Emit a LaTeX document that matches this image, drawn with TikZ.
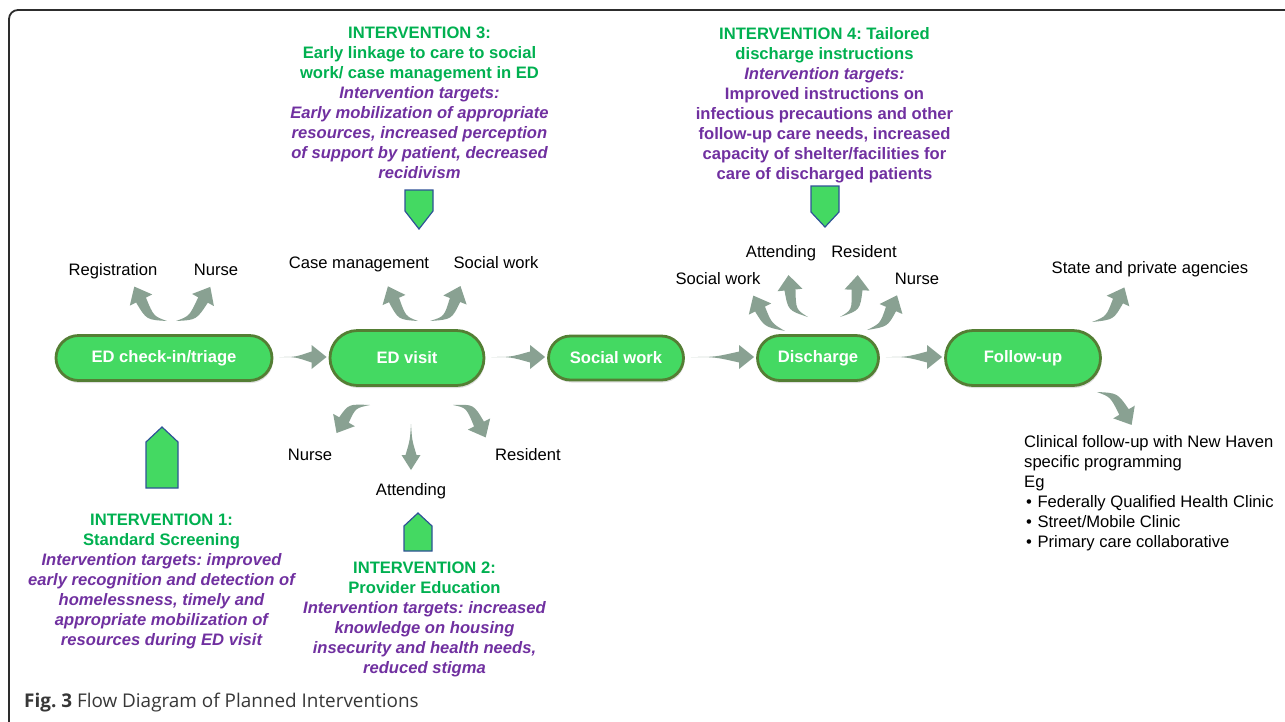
\documentclass[tikz,border=0pt]{standalone}
\usepackage{fontspec}
\setmainfont{Liberation Sans}
\newfontfamily\capfont{Open Sans}
\usetikzlibrary{calc,shapes.misc,shadows}
\frenchspacing

\definecolor{pillgreen}{RGB}{68,217,98}
\definecolor{pilledge}{RGB}{84,126,52}
\definecolor{arrowgray}{RGB}{137,161,146}
\definecolor{headgreen}{RGB}{0,176,80}
\definecolor{targetpurple}{RGB}{112,48,160}
\definecolor{tagblue}{RGB}{47,82,150}
\definecolor{framegray}{RGB}{45,45,45}
\definecolor{captiongray}{RGB}{55,55,55}

\newcommand{\ivhead}[1]{\textcolor{headgreen}{\bfseries #1}}
\newcommand{\ivtarget}[1]{\textcolor{targetpurple}{\bfseries\itshape #1}}
\newcommand{\ivplain}[1]{\textcolor{targetpurple}{\bfseries #1}}

% tapered block arrow
% #1 head half-width, #2 body bulge, #3 tail point, #4 bend control, #5 head base
\newcommand{\fatarrow}[5]{%
  \fill[arrowgray] (#3) .. controls ($(#4)!#2!-90:(#5)$) .. ($(#5)!5.5pt!90:(#4)$)
    -- ($(#5)!#1!90:(#4)$) -- ($(#5)!-15pt!(#4)$) -- ($(#5)!#1!-90:(#4)$)
    -- ($(#5)!5.5pt!-90:(#4)$) .. controls ($(#4)!#2!90:(#5)$) .. (#3) -- cycle;}

% curved arrow from three named coordinates built from plain numbers
\newcommand{\bentarrow}[4]{%
  \coordinate (#1S) at (#2); \coordinate (#1C) at (#3); \coordinate (#1B) at (#4);
  \fatarrow{12.5pt}{4pt}{#1S}{#1C}{#1B}}

\tikzset{
  stage/.style={rounded rectangle, draw=pilledge, line width=2.8pt, fill=pillgreen,
    text=white, font=\fontsize{16.6}{20}\selectfont\bfseries, inner sep=0pt,
    drop shadow={shadow xshift=1pt, shadow yshift=-2.5pt, opacity=0.25}},
  role/.style={font=\fontsize{16.6}{20}\selectfont, anchor=base, inner sep=0pt},
  block/.style={font=\fontsize{16.6}{20}\selectfont, align=center, anchor=north, inner sep=0pt},
  tag/.style={fill=pillgreen, draw=tagblue, line width=1.2pt, line join=miter},
}

\begin{document}
\begin{tikzpicture}[x=1pt,y=-1pt]
\useasboundingbox (0,0) rectangle (1285,721);

% figure frame
\draw[framegray, line width=1.8pt, rounded corners=9pt] (1300,10) -- (9,10) -- (9,735) -- (1300,735);

% process stages
\node[stage, minimum width=216pt, minimum height=45pt] (ci) at (164,358) {ED check-in/triage};
\node[stage, minimum width=154pt, minimum height=55pt] (ed) at (407,358) {ED visit};
\node[stage, minimum width=135pt, minimum height=44pt] (sw) at (616,358) {Social work};
\node[stage, minimum width=121pt, minimum height=45pt] (dc) at (818,358) {Discharge};
\node[stage, minimum width=155pt, minimum height=55pt] (fu) at (1023,358) {Follow-up};

% arrows between stages
\foreach \a/\b [count=\i] in {ci/ed, ed/sw, sw/dc, dc/fu}{
  \coordinate (m\i S) at ($(\a.east)+(6,-1)$);
  \coordinate (m\i B) at ($(\b.west)+(-17,-1)$);
  \coordinate (m\i C) at ($(m\i S)!0.5!(m\i B)$);
  \fatarrow{12pt}{0pt}{m\i S}{m\i C}{m\i B}
}

% staff and service labels
\node[role] (lreg) at (113,275) {Registration};
\node[role] (lnur1) at (216,275) {Nurse};
\node[role] (lcm) at (359,268) {Case management};
\node[role] (lsw1) at (496,268) {Social work};
\node[role] (lnur2) at (310,460) {Nurse};
\node[role] (latt1) at (411,495) {Attending};
\node[role] (lres1) at (528,460) {Resident};
\node[role] (lsw2) at (718,284) {Social work};
\node[role] (latt2) at (781,257) {Attending};
\node[role] (lres2) at (864,257) {Resident};
\node[role] (lnur3) at (917,284) {Nurse};
\node[role] (lstate) at (1150,273) {State and private agencies};

% branching arrows
\bentarrow{reg}{167,321}{150,318}{141,300}
\bentarrow{nura}{176,321}{193,318}{203,300}
\bentarrow{cm}{418,321}{402,318}{394,300}
\bentarrow{swa}{430,321}{448,318}{455,300}
\bentarrow{nurb}{370,405}{352,406}{344,420}
\coordinate (attaS) at (411,424); \coordinate (attaC) at (411,440); \coordinate (attaB) at (411,455);
\fatarrow{9.5pt}{1pt}{attaS}{attaC}{attaB}
\bentarrow{resa}{453,405}{470,406}{479,424}
\bentarrow{swb}{785,331}{768,325}{760,309}
\bentarrow{attb}{808,317}{792,310}{790,290}
\bentarrow{resb}{840,317}{856,310}{857,290}
\bentarrow{nurc}{867,330}{884,325}{891,309}
\bentarrow{st}{1092,322}{1110,318}{1118,301}
\bentarrow{cl}{1097,392}{1114,395}{1124,412}

% intervention markers
\filldraw[tag] (146,488) -- (146,442) -- (162,427) -- (178,442) -- (178,488) -- cycle;
\filldraw[tag] (404,551) -- (404,526) -- (418,513) -- (432,526) -- (432,551) -- cycle;
\filldraw[tag] (405,190) -- (433,190) -- (433,211) -- (419,229) -- (405,211) -- cycle;
\filldraw[tag] (811,186) -- (839,186) -- (839,212) -- (825,227) -- (811,212) -- cycle;

% intervention descriptions
\node[block] (iv3) at (419.5,27) {\ivhead{INTERVENTION 3:}\\
  \ivhead{Early linkage to care to social}\\
  \ivhead{work/ case management in ED}\\
  \ivtarget{Intervention targets:}\\
  \ivtarget{Early mobilization of appropriate}\\
  \ivtarget{resources, increased perception}\\
  \ivtarget{of support by patient, decreased}\\
  \ivtarget{recidivism}};

\node[block] (iv4) at (824.5,27) {\ivhead{INTERVENTION 4: Tailored}\\
  \ivhead{discharge instructions}\\
  \ivtarget{Intervention targets:}\\
  \ivplain{Improved instructions on}\\
  \ivplain{infectious precautions and other}\\
  \ivplain{follow-up care needs, increased}\\
  \ivplain{capacity of shelter/facilities for}\\
  \ivplain{care of discharged patients}};

\node[block] (iv1) at (161.5,514) {\ivhead{INTERVENTION 1:}\\
  \ivhead{Standard Screening}\\
  \ivtarget{Intervention targets: improved}\\
  \ivtarget{early recognition and detection of}\\
  \ivtarget{homelessness, timely and}\\
  \ivtarget{appropriate mobilization of}\\
  \ivtarget{resources during ED visit}};

\node[block] (iv2) at (424.5,562) {\ivhead{INTERVENTION 2:}\\
  \ivhead{Provider Education}\\
  \ivtarget{Intervention targets: increased}\\
  \ivtarget{knowledge on housing}\\
  \ivtarget{insecurity and health needs,}\\
  \ivtarget{reduced stigma}};

% clinical follow-up options
\node[font=\fontsize{16.6}{20}\selectfont, align=left, anchor=north west, inner sep=0pt] (clin) at (1024,435) {%
  Clinical follow-up with New Haven\\
  specific programming\\
  Eg\\
  \hspace{2pt}•\hspace{5.5pt}Federally Qualified Health Clinic\\
  \hspace{2pt}•\hspace{5.5pt}Street/Mobile Clinic\\
  \hspace{2pt}•\hspace{5.5pt}Primary care collaborative};

% caption
\node[font=\capfont\fontsize{18.9}{22}\selectfont, text=captiongray, anchor=west, inner sep=0pt] (cap) at (24,703)
  {\textbf{Fig. 3} Flow Diagram of Planned Interventions};
\end{tikzpicture}
\end{document}
